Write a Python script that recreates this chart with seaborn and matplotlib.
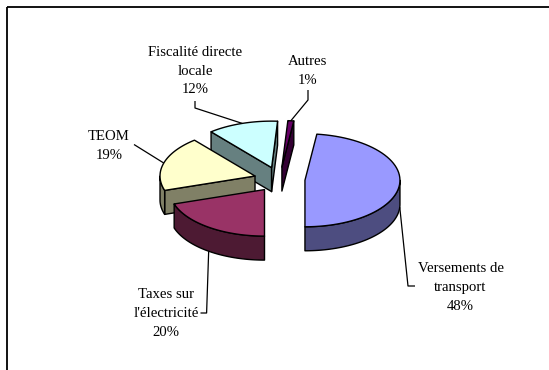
import numpy as np
import matplotlib
matplotlib.use("Agg")
import matplotlib.pyplot as plt
from matplotlib.patches import Polygon, Rectangle
import seaborn as sns

# Budget breakdown (share of receipts, %)
categories = ["Versements de\ntransport", "Taxes sur\nl'électricité", "TEOM",
              "Fiscalité directe\nlocale", "Autres"]
shares = [48, 20, 19, 12, 1]
top_colors = ["#9999FF", "#993366", "#FFFFCC", "#CCFFFF", "#660066"]

sns.set_theme(style="white")
plt.rcParams["font.family"] = ["Liberation Serif", "DejaVu Serif"]

W, H = 549, 370
fig = plt.figure(figsize=(W / 100, H / 100), dpi=100)
ax = fig.add_axes([0, 0, 1, 1])
ax.set_xlim(0, W)
ax.set_ylim(H, 0)
ax.axis("off")

# outer frame of the chart area
ax.add_patch(Rectangle((7, 7), W + 20, H + 20, fill=False, lw=1.3,
                       ec="black", zorder=0))

# 3-D pie geometry (pixel units)
cx, cy = 279.5, 179.5
rx, ry = 95.0, 46.5
depth = 24.0
explode = 25.5
start = 180 - shares[0] * 3.6   # first slice closes at six o'clock


def shade(hex_color, f=0.5):
    r, g, b = matplotlib.colors.to_rgb(hex_color)
    return (r * f, g * f, b * f)


def rim(c, a, drop=0.0):
    t = np.radians(a)
    return (c[0] + rx * np.sin(t), c[1] - ry * np.cos(t) + drop)


def arc(c, a0, a1, drop=0.0, n=60):
    return [rim(c, a, drop) for a in np.linspace(a0, a1, n)]


edge = dict(ec="black", lw=1.0, joinstyle="round")
slices = []
acc = start
for i, v in enumerate(shares):
    a0, a1 = acc, acc + v * 3.6
    acc = a1
    mid = (a0 + a1) / 2
    t = np.radians(mid)
    c = (cx + explode * np.sin(t), cy - explode * (ry / rx) * np.cos(t))
    slices.append((i, a0, a1, mid, c))

# back-to-front painting
for i, a0, a1, mid, c in sorted(slices, key=lambda s: s[4][1]):
    side = shade(top_colors[i])
    apex_b = (c[0], c[1] + depth)
    # flat cut faces
    if np.sin(np.radians(a0)) < -1e-6:
        ax.add_patch(Polygon([c, rim(c, a0), rim(c, a0, depth), apex_b],
                             fc=side, **edge))
    if np.sin(np.radians(a1)) > 1e-6:
        ax.add_patch(Polygon([c, rim(c, a1), rim(c, a1, depth), apex_b],
                             fc=side, **edge))
    # curved outer wall on the front half
    b0 = a0 % 360
    b1 = b0 + (a1 - a0)
    lo, hi = max(b0, 90), min(b1, 270)
    if hi > lo:
        pts = arc(c, lo, hi) + arc(c, hi, lo, depth)
        ax.add_patch(Polygon(pts, fc=side, **edge))
    # top face
    ax.add_patch(Polygon([c] + arc(c, a0, a1), fc=top_colors[i], **edge))

# labels with leader lines
label_pos = [(460.5, 286.2), (166.0, 312.5), (109.0, 144.7),
             (195.0, 70.0), (308.0, 70.0)]
leader_via = [[(408.0, 286.0), (415.0, 286.0)],
              [(206.6, 313.0), (200.5, 313.0)],
              [(134.0, 144.5)],
              [(195.0, 108.0), (195.0, 101.0)],
              [(308.0, 100.0), (308.0, 90.0)]]
line_gap = 18.7
for i, a0, a1, mid, c in slices:
    front = np.cos(np.radians(mid)) < 0
    anchor = rim(c, mid, depth if front else 0.0)
    path = [anchor] + leader_via[i]
    xs, ys = zip(*path)
    ax.plot(xs, ys, color="black", lw=0.9, solid_capstyle="butt")
    lines = categories[i].split("\n") + [f"{shares[i]}%"]
    x0, y0 = label_pos[i]
    n = len(lines)
    for j, txt in enumerate(lines):
        y = y0 + (j - (n - 1) / 2) * line_gap
        ax.text(x0, y + 4.6, txt, ha="center", va="baseline",
                fontsize=10.6, color="black")

fig.savefig("out.png", dpi=100)
